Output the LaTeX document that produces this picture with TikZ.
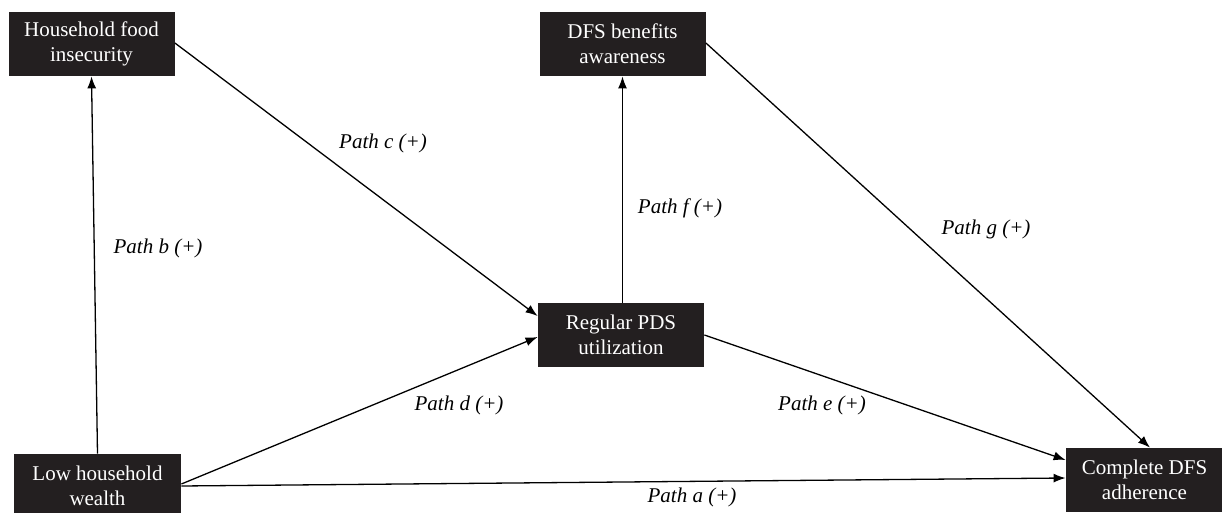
\documentclass[tikz,border=0pt]{standalone}
\usepackage{fontspec}
\setmainfont{Liberation Serif}
\usetikzlibrary{arrows.meta}
\definecolor{boxblack}{HTML}{231F20}
\tikzset{box/.style = {fill=boxblack, text=white, align=center, inner sep=0pt,
                       minimum width=83pt, minimum height=32pt,
                       font=\fontsize{10.5}{12.5}\selectfont},
         pathlabel/.style = {inner sep=0pt, font=\fontsize{10.5}{12.5}\selectfont\itshape},
         link/.style = {-{Latex[length=6pt, width=4.5pt]}, line width=0.65pt}}

\begin{document}
\begin{tikzpicture}[x=0.5pt, y=-0.5pt]
    \useasboundingbox (0, 0) rectangle (1222, 513);

    \node [box] (food) at (91.5, 44) {Household food\\insecurity};
    \node [box] (aware) at (622.5, 44) {DFS benefits\\awareness};
    \node [box] (pds) at (621, 335) {Regular PDS\\utilization};
    \node [box, minimum width=83.5pt] (wealth) at (97.5, 486) {Low household\\wealth};
    \node [box, minimum width=78.5pt] (adher) at (1144.5, 480) {Complete DFS\\adherence};

    \draw [link] (wealth.east) -- ([yshift=1pt]adher.west);
    \draw [link] ([yshift=1pt]wealth.east) -- ([yshift=-1pt]pds.west);
    \draw [link] (wealth.north) -- (food.south);
    \draw [link] ([yshift=0.5pt]food.east) -- ([yshift=9.5pt]pds.west);
    \draw [link] (pds.north -| aware.south) -- (aware.south);
    \draw [link] ([yshift=0.5pt]aware.east) -- ([xshift=2.75pt]adher.north);
    \draw [link] (pds.east) -- ([yshift=10pt]adher.west);

    \node [pathlabel] (la) at (692, 497) {Path a (+)};
    \node [pathlabel] (lb) at (158, 248) {Path b (+)};
    \node [pathlabel] (lc) at (383, 143) {Path c (+)};
    \node [pathlabel] (ld) at (459, 405) {Path d (+)};
    \node [pathlabel] (le) at (822, 405) {Path e (+)};
    \node [pathlabel] (lf) at (680, 208) {Path f (+)};
    \node [pathlabel] (lg) at (986, 229) {Path g (+)};
\end{tikzpicture}
\end{document}
